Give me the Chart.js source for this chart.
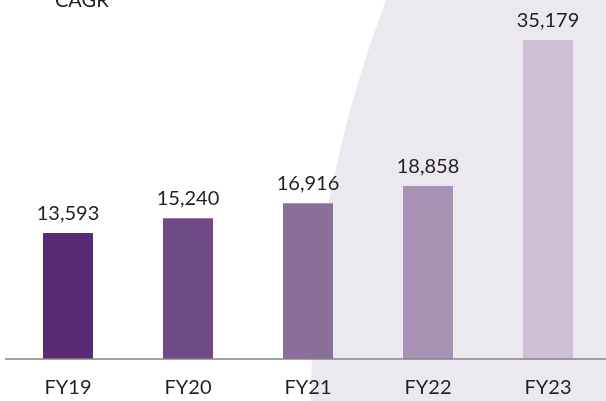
<!DOCTYPE html>
<html>
<head>
<meta charset="utf-8">
<script src="https://cdn.jsdelivr.net/npm/chart.js@4/dist/chart.umd.min.js"></script>
<style>
  html, body { margin: 0; padding: 0; background: #ffffff; overflow: hidden; }
  #wrap { position: relative; width: 616px; height: 401px; }
</style>
</head>
<body>
<div id="wrap"><canvas id="c" width="616" height="401"></canvas></div>
<script>
const categories = ['FY19', 'FY20', 'FY21', 'FY22', 'FY23'];
const revenue = [13593, 15240, 16916, 18858, 35179];
const barColors = ['#572A73', '#704B87', '#8A6F9A', '#A892B5', '#CDBFD4'];
const headerText = 'CAGR';

const FONT = 'Lato, "Open Sans", sans-serif';
const TEXT_COLOR = '#231F20';
const FONT_SIZE = 20;

const backdrop = {
  id: 'backdrop',
  beforeDraw(chart) {
    const ctx = chart.ctx;
    const w = chart.width, h = chart.height;
    ctx.save();
    ctx.fillStyle = '#ECE8F0';
    ctx.beginPath();
    ctx.moveTo(386, 0);
    ctx.bezierCurveTo(349, 100, 311, 230, 311, h);
    ctx.lineTo(w, h);
    ctx.lineTo(w, 0);
    ctx.closePath();
    ctx.fill();
    ctx.fillStyle = TEXT_COLOR;
    ctx.font = FONT_SIZE + 'px ' + FONT;
    ctx.textBaseline = 'alphabetic';
    ctx.textAlign = 'left';
    ctx.fillText(headerText, 55, 7);
    ctx.restore();
  }
};

const overlay = {
  id: 'overlay',
  afterDatasetsDraw(chart) {
    const ctx = chart.ctx;
    const meta = chart.getDatasetMeta(0);
    const ds = chart.data.datasets[0];
    ctx.save();
    ctx.fillStyle = TEXT_COLOR;
    ctx.font = FONT_SIZE + 'px ' + FONT;
    ctx.textAlign = 'center';
    ctx.textBaseline = 'alphabetic';
    meta.data.forEach((bar, i) => {
      ctx.fillText(ds.data[i].toLocaleString('en-US'), bar.x, bar.y - 13);
    });
    const y = chart.chartArea.bottom;
    ctx.strokeStyle = '#858585';
    ctx.lineWidth = 1.5;
    ctx.beginPath();
    ctx.moveTo(5, y);
    ctx.lineTo(chart.width, y);
    ctx.stroke();
    ctx.restore();
  }
};

new Chart(document.getElementById('c'), {
  type: 'bar',
  data: {
    labels: categories,
    datasets: [{
      data: revenue,
      backgroundColor: barColors,
      base: -500,
      categoryPercentage: 1,
      barPercentage: 50 / 120,
      borderWidth: 0
    }]
  },
  options: {
    responsive: false,
    animation: false,
    devicePixelRatio: 1,
    layout: { padding: { left: 8, right: 8, top: 0, bottom: 0 } },
    plugins: { legend: { display: false }, tooltip: { enabled: false }, title: { display: false } },
    scales: {
      x: {
        grid: { display: false, drawTicks: false },
        border: { display: false },
        ticks: { color: TEXT_COLOR, font: { family: FONT, size: FONT_SIZE }, padding: 17, maxRotation: 0 },
        afterFit(scale) { scale.height = 42; }
      },
      y: {
        display: false,
        min: -500,
        max: 39650
      }
    }
  },
  plugins: [backdrop, overlay]
});
</script>
</body>
</html>
